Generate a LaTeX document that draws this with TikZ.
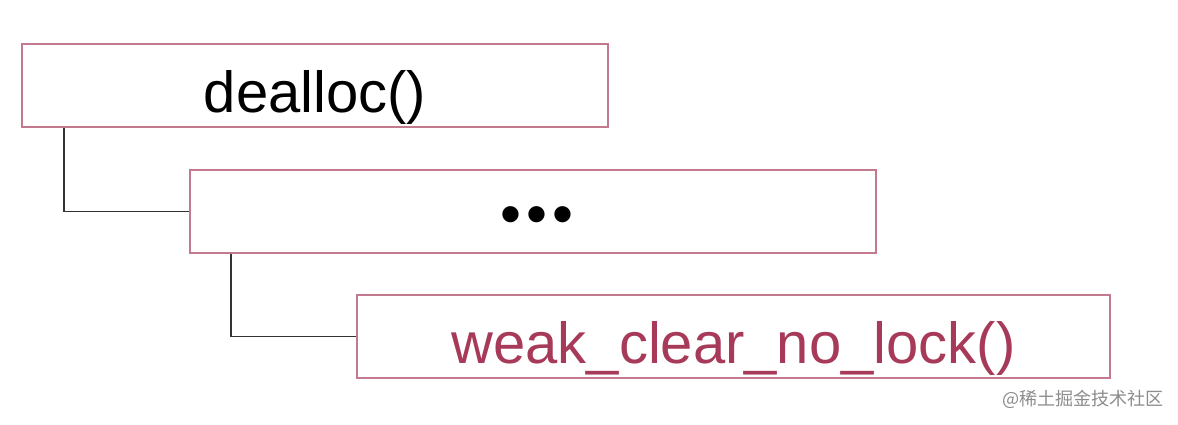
\documentclass[tikz,border=0pt]{standalone}
\usepackage{fontspec}
\setmainfont{Liberation Sans}
\newfontfamily\cjk{Noto Sans CJK SC}
\definecolor{boxline}{RGB}{196,122,142}
\definecolor{maroontext}{RGB}{166,58,88}

\begin{document}
\begin{tikzpicture}[x=0.02cm,y=-0.02cm,
    callbox/.style={draw=boxline,line width=1.1pt,inner sep=0pt,minimum height=1.66cm},
    calltext/.style={font=\fontsize{33}{33}\selectfont,text height=1.36cm,text depth=0.30cm},
    link/.style={draw=black!80,line width=0.9pt}]
     \useasboundingbox (0,0) rectangle (1178,424);

     \node[callbox,calltext,minimum width=11.72cm] (dealloc) at (315,85.5) {dealloc()};
     \node[callbox,minimum width=13.72cm] (dots) at (533,211.5) {};
     \node[font=\fontsize{34}{34}\selectfont] (dotstext) at (537,221) {•\hspace{3pt}•\hspace{3pt}•};
     \node[callbox,calltext,text=maroontext,minimum width=15.06cm] (weakclear) at (733.5,336.5) {weak\_clear\_no\_lock()};

     \draw[link] ([xshift=0.86cm]dealloc.south west) |- (dots.west);
     \draw[link] ([xshift=0.84cm]dots.south west) |- (weakclear.west);

     \node[text=black!45,font=\cjk\fontsize{10.3}{12}\selectfont] (mark) at (1083,399) {@稀土掘金技术社区};
\end{tikzpicture}
\end{document}
